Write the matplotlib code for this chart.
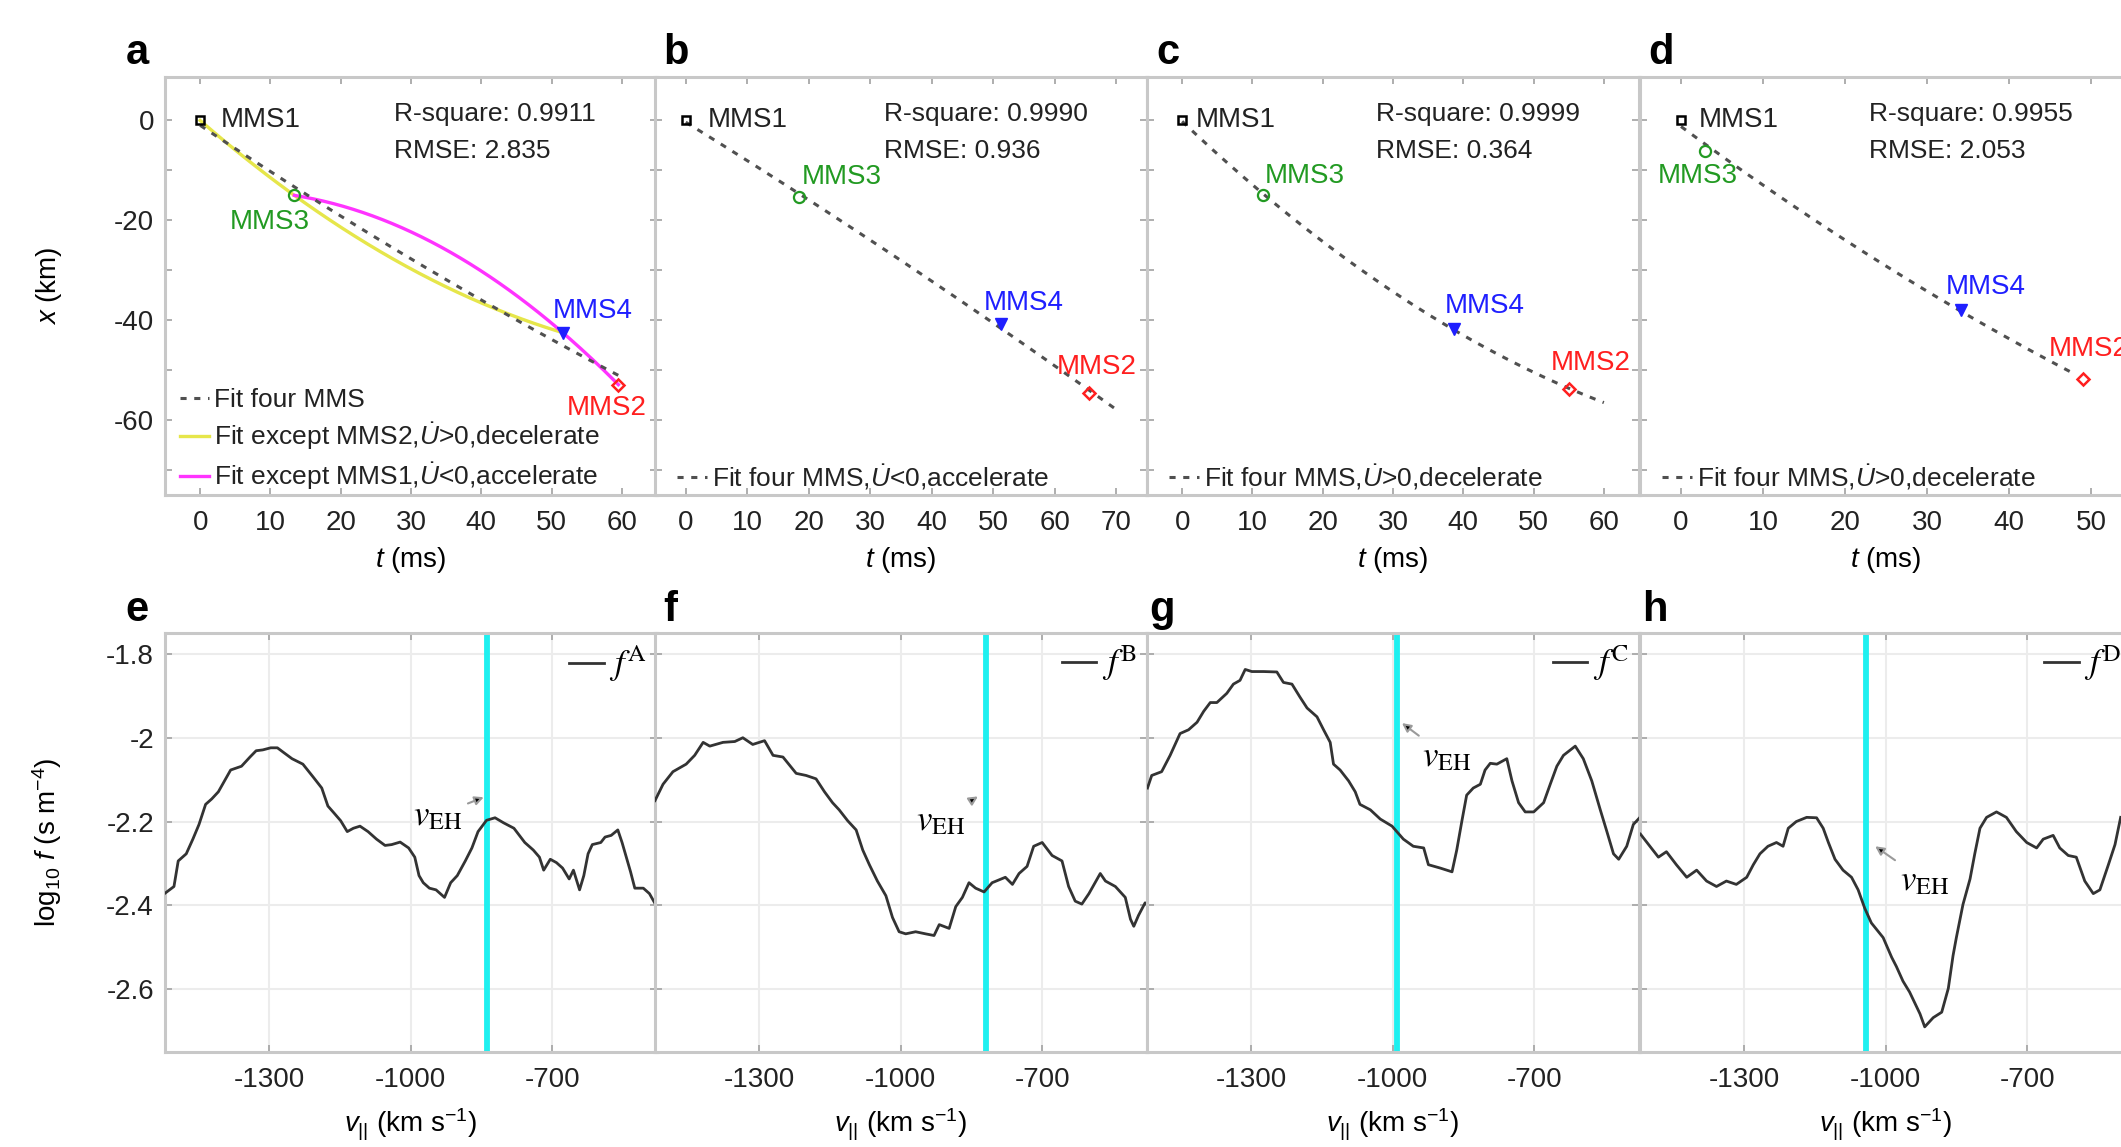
import numpy as np
import matplotlib.pyplot as plt

plt.rcParams['font.family'] = ['Liberation Sans', 'DejaVu Sans']
plt.rcParams['mathtext.fontset'] = 'custom'
plt.rcParams['mathtext.rm'] = 'Liberation Sans'
plt.rcParams['mathtext.it'] = 'Liberation Sans:italic'
plt.rcParams['mathtext.bf'] = 'Liberation Sans:bold'

# ---- top row: timing (ms) and position along x (km) of the four spacecraft
top_letters = ['a', 'b', 'c', 'd']
t_mms1 = [0.0, 0.0, 0.0, 0.0]
x_mms1 = [0.0, 0.0, 0.0, 0.0]
t_mms3 = [13.4, 18.4, 11.5, 2.9]
x_mms3 = [-15.0, -15.4, -15.0, -6.1]
t_mms4 = [51.6, 51.2, 38.7, 34.2]
x_mms4 = [-42.5, -40.7, -41.7, -37.9]
t_mms2 = [59.5, 65.6, 55.1, 49.0]
x_mms2 = [-52.9, -54.5, -53.8, -51.8]
fit_t_end = [60, 70, 60, 48]
r_square = ['0.9911', '0.9990', '0.9999', '0.9955']
rmse = ['2.835', '0.936', '0.364', '2.053']
top_xlims = [(-5, 65), (-5, 75), (-5, 65), (-5, 55)]
fit_labels = [
    'Fit four MMS',
    r'Fit four MMS,$\dot{U}$<0,accelerate',
    r'Fit four MMS,$\dot{U}$>0,decelerate',
    r'Fit four MMS,$\dot{U}$>0,decelerate',
]
yellow_label = r'Fit except MMS2,$\dot{U}$>0,decelerate'
magenta_label = r'Fit except MMS1,$\dot{U}$<0,accelerate'

# ---- bottom row: reduced distributions log10 f vs v_par (km/s)
bottom_letters = ['e', 'f', 'g', 'h']
f_names = ['A', 'B', 'C', 'D']
v_e = [-1521, -1501, -1492, -1475, -1461, -1448, -1434, -1421, -1407, -1394,
       -1381, -1358, -1340, -1327, -1313, -1296, -1282, -1269, -1251, -1228,
       -1206, -1188, -1175, -1161, -1148, -1134, -1121, -1107, -1090, -1072,
       -1054, -1040, -1022, -1004, -991, -982, -973, -960, -946, -928,
       -915, -901, -884, -870, -857, -839, -821, -803, -781, -758,
       -740, -727, -718, -704, -691, -678, -664, -655, -642, -633,
       -624, -615, -597, -588, -575, -561, -552, -543, -534, -525,
       -507, -494, -481, -476]
f_e = [-2.372, -2.355, -2.294, -2.277, -2.242, -2.207, -2.159, -2.146, -2.129, -2.103,
       -2.077, -2.068, -2.046, -2.031, -2.029, -2.024, -2.024, -2.035, -2.050, -2.063,
       -2.094, -2.120, -2.163, -2.181, -2.198, -2.224, -2.216, -2.211, -2.224, -2.242,
       -2.257, -2.255, -2.249, -2.263, -2.285, -2.329, -2.346, -2.359, -2.363, -2.381,
       -2.346, -2.329, -2.294, -2.263, -2.224, -2.197, -2.191, -2.203, -2.216, -2.250,
       -2.268, -2.285, -2.316, -2.290, -2.298, -2.311, -2.337, -2.316, -2.363, -2.329,
       -2.277, -2.255, -2.250, -2.237, -2.233, -2.220, -2.250, -2.285, -2.320, -2.359,
       -2.359, -2.372, -2.398, -2.416]
v_f = [-1520, -1503, -1482, -1454, -1436, -1418, -1404, -1376, -1351, -1334,
       -1313, -1288, -1270, -1249, -1221, -1200, -1179, -1161, -1144, -1130,
       -1112, -1094, -1080, -1066, -1049, -1031, -1017, -1003, -989, -968,
       -947, -929, -918, -897, -883, -869, -855, -841, -823, -806,
       -778, -763, -749, -732, -718, -700, -679, -658, -644, -630,
       -616, -601, -577, -566, -545, -524, -513, -506, -496, -482, -478]
f_f = [-2.150, -2.111, -2.081, -2.063, -2.042, -2.011, -2.020, -2.011, -2.009, -2.000,
       -2.016, -2.007, -2.042, -2.046, -2.085, -2.090, -2.098, -2.129, -2.155, -2.172,
       -2.198, -2.220, -2.268, -2.303, -2.342, -2.377, -2.429, -2.463, -2.468, -2.463,
       -2.468, -2.472, -2.446, -2.455, -2.403, -2.381, -2.346, -2.359, -2.368, -2.346,
       -2.333, -2.350, -2.324, -2.307, -2.259, -2.250, -2.281, -2.294, -2.355, -2.390,
       -2.397, -2.372, -2.324, -2.342, -2.355, -2.381, -2.433, -2.450, -2.424, -2.394, -2.398]
v_g = [-1519, -1510, -1489, -1471, -1450, -1432, -1414, -1400, -1386, -1372,
       -1351, -1337, -1323, -1312, -1298, -1273, -1245, -1231, -1213, -1196,
       -1181, -1160, -1146, -1132, -1125, -1111, -1093, -1079, -1069, -1047,
       -1026, -1001, -991, -977, -956, -934, -924, -899, -874, -864,
       -853, -843, -829, -814, -804, -793, -779, -758, -747, -733,
       -719, -701, -680, -666, -652, -638, -613, -596, -578, -560,
       -546, -532, -521, -504, -490, -476]
f_g = [-2.120, -2.090, -2.081, -2.042, -1.990, -1.981, -1.963, -1.937, -1.916, -1.916,
       -1.894, -1.872, -1.863, -1.837, -1.842, -1.842, -1.843, -1.868, -1.872, -1.903,
       -1.929, -1.950, -1.981, -2.011, -2.063, -2.077, -2.103, -2.129, -2.159, -2.172,
       -2.194, -2.211, -2.224, -2.242, -2.259, -2.263, -2.303, -2.311, -2.320, -2.268,
       -2.198, -2.137, -2.120, -2.111, -2.077, -2.061, -2.063, -2.050, -2.103, -2.155,
       -2.177, -2.177, -2.155, -2.111, -2.068, -2.042, -2.020, -2.050, -2.103, -2.172,
       -2.224, -2.277, -2.290, -2.259, -2.207, -2.190]
v_h = [-1519, -1499, -1481, -1464, -1443, -1421, -1400, -1379, -1358,
       -1337, -1316, -1294, -1280, -1266, -1249, -1231, -1217, -1206, -1189,
       -1167, -1146, -1132, -1121, -1107, -1090, -1072, -1058, -1044, -1030,
       -1005, -987, -977, -963, -949, -927, -917, -899, -881, -867,
       -857, -850, -836, -821, -811, -800, -786, -765, -744, -723,
       -701, -680, -666, -645, -631, -613, -596, -578, -560, -546,
       -528, -514, -502]
f_h = [-2.230, -2.259, -2.285, -2.272, -2.303, -2.333, -2.316, -2.342, -2.355,
       -2.342, -2.350, -2.333, -2.303, -2.277, -2.259, -2.250, -2.259, -2.216, -2.200,
       -2.190, -2.191, -2.216, -2.250, -2.290, -2.316, -2.333, -2.363, -2.407, -2.442,
       -2.477, -2.524, -2.546, -2.581, -2.607, -2.659, -2.690, -2.668, -2.655, -2.598,
       -2.520, -2.477, -2.398, -2.337, -2.277, -2.216, -2.190, -2.177, -2.190, -2.224,
       -2.250, -2.263, -2.242, -2.233, -2.263, -2.281, -2.285, -2.342, -2.372, -2.363,
       -2.303, -2.255, -2.190]
v_curves = [v_e, v_f, v_g, v_h]
f_curves = [f_e, f_f, f_g, f_h]
v_eh = [-839, -819, -991, -1042]
eh_text = [(-942, -2.185), (-915, -2.197), (-885, -2.045), (-917, -2.342)]
eh_head = [(-845, -2.142), (-836, -2.140), (-980, -1.965), (-1022, -2.259)]

# label placements (data coords, left aligned) for the MMS tags
lab_mms1 = [(3.0, 0.0), (3.5, 0.0), (2.0, 0.0), (2.2, 0.0)]
lab_mms3 = [(4.2, -20.4), (18.8, -11.4), (11.7, -11.1), (-2.8, -11.1)]
lab_mms4 = [(50.1, -38.2), (48.4, -36.6), (37.4, -37.1), (32.3, -33.4)]
lab_mms2 = [(52.2, -57.5), (60.4, -49.3), (52.4, -48.6), (44.8, -45.7)]

W, H = 2121, 1147
lefts = [165, 655, 1147, 1640]
axw = 492
green, blue, red = '#229a22', '#1f1fff', '#ff1f1f'


def style(ax):
    for s in ax.spines.values():
        s.set_color('#c8c8c8')
        s.set_linewidth(2.2)
    ax.tick_params(direction='in', top=True, right=True, length=5, width=1.3,
                   color='#a8a8a8', labelsize=20, labelcolor='#222222', pad=8)
    ax.tick_params(axis='x', pad=11)


fig = plt.figure(figsize=(W / 100, H / 100), dpi=100)

for i in range(4):
    ax = fig.add_axes([lefts[i] / W, 1 - 495 / H, axw / W, 418 / H])
    style(ax)
    t4 = [t_mms1[i], t_mms3[i], t_mms4[i], t_mms2[i]]
    x4 = [x_mms1[i], x_mms3[i], x_mms4[i], x_mms2[i]]
    handles = []
    if i == 0:
        cy = np.polyfit(t4[:3], x4[:3], 2)
        ty = np.linspace(t4[0], t4[2], 200)
        yl, = ax.plot(ty, np.polyval(cy, ty), color='#e6e64a', lw=2.4, zorder=2)
        cm = np.polyfit(t4[1:], x4[1:], 2)
        tm = np.linspace(t4[1], t4[3], 200)
        ml, = ax.plot(tm, np.polyval(cm, tm), color='#ff33ff', lw=2.4, zorder=2)
    coef = np.polyfit(t4, x4, 2)
    tt = np.linspace(0, fit_t_end[i], 300)
    fl, = ax.plot(tt, np.polyval(coef, tt), color='#505050', lw=2.2,
                  ls=(0, (2, 2.5)), zorder=3)
    handles.append(fl)
    labels = [fit_labels[i]]
    if i == 0:
        handles += [yl, ml]
        labels += [yellow_label, magenta_label]

    ax.plot(t_mms1[i], x_mms1[i], 's', mfc='none', mec='black', ms=6, mew=1.8, zorder=4)
    ax.plot(t_mms3[i], x_mms3[i], 'o', mfc='none', mec=green, ms=8, mew=1.6, zorder=4)
    ax.plot(t_mms4[i], x_mms4[i], 'v', color=blue, ms=8, zorder=4)
    ax.plot(t_mms2[i], x_mms2[i], 'D', mfc='none', mec=red, ms=6.5, mew=1.8, zorder=4)
    ax.text(*lab_mms1[i], 'MMS1', color='#222222', fontsize=20, va='center')
    ax.text(*lab_mms3[i], 'MMS3', color=green, fontsize=20, va='center')
    ax.text(*lab_mms4[i], 'MMS4', color=blue, fontsize=20, va='center')
    ax.text(*lab_mms2[i], 'MMS2', color=red, fontsize=20, va='center')
    ax.text(0.466, 0.912, 'R-square: ' + r_square[i], transform=ax.transAxes,
            fontsize=19, va='center', color='#222222')
    ax.text(0.466, 0.823, 'RMSE: ' + rmse[i], transform=ax.transAxes,
            fontsize=19, va='center', color='#222222')

    leg = ax.legend(handles, labels, loc='lower left', frameon=False, fontsize=19,
                    bbox_to_anchor=(0.02 if i == 0 else 0.035, -0.005),
                    borderaxespad=0, borderpad=0.2, handlelength=1.1,
                    handletextpad=0.2, labelspacing=0.3)
    for t in leg.get_texts():
        t.set_color('#222222')

    ax.set_xlim(*top_xlims[i])
    ax.set_ylim(-75, 8.7)
    ax.set_xticks(range(0, top_xlims[i][1], 10))
    ax.set_xticklabels([str(v) for v in range(0, top_xlims[i][1], 10)])
    ax.set_yticks(range(-70, 1, 10))
    if i == 0:
        ax.set_yticklabels([str(v) if v % 20 == 0 else '' for v in range(-70, 1, 10)])
        ax.set_ylabel(r'$x$ (km)', fontsize=20)
        ax.yaxis.set_label_coords(-0.206, 0.5)
    else:
        ax.tick_params(labelleft=False)
    ax.set_xlabel(r'$t$ (ms)', fontsize=20)
    ax.xaxis.set_label_coords(0.5, -0.12)
    fig.text((lefts[i] + (-28 if i == 0 else 21)) / W, 1 - 53 / H, top_letters[i],
             fontsize=30, fontweight='bold', ha='center', va='center')

for i in range(4):
    ax = fig.add_axes([lefts[i] / W, 1 - 1052 / H, axw / W, 419 / H])
    style(ax)
    ax.grid(True, color='#ececec', lw=1.5)
    ax.set_axisbelow(True)
    ln, = ax.plot(v_curves[i], f_curves[i], color='#333333', lw=2.0, zorder=3)
    ax.axvline(v_eh[i], color='#1ef0f0', lw=4.2, zorder=2)
    ax.annotate(r'$v_{\rm EH}$', xy=eh_head[i], xytext=eh_text[i], ha='center',
                va='center', fontsize=25, math_fontfamily='stix', zorder=5,
                arrowprops=dict(arrowstyle='-|>', ec='#9a9a9a', fc='black', lw=1.5,
                                mutation_scale=13, shrinkA=2, shrinkB=0))
    leg = ax.legend([ln], [r'$f^{\rm %s}$' % f_names[i]], loc='upper right',
                    frameon=False, fontsize=25, handlelength=1.0,
                    handletextpad=0.15, borderaxespad=0.1, borderpad=0.2)
    for t in leg.get_texts():
        t.set_math_fontfamily('stix')
    ax.set_xlim(-1520, -478)
    ax.set_ylim(-2.75, -1.75)
    ax.set_xticks([-1300, -1000, -700])
    ax.set_xticklabels(['-1300', '-1000', '-700'])
    ax.set_yticks([-2.6, -2.4, -2.2, -2.0, -1.8])
    if i == 0:
        ax.set_yticklabels(['-2.6', '-2.4', '-2.2', '-2', '-1.8'])
        ax.set_ylabel(r'log$_{10}$ $f$ (s m$^{-4}$)', fontsize=20)
        ax.yaxis.set_label_coords(-0.206, 0.5)
    else:
        ax.tick_params(labelleft=False)
    ax.set_xlabel(r'$v_{||}$ (km s$^{-1}$)', fontsize=20)
    ax.xaxis.set_label_coords(0.5, -0.13)
    fig.text((lefts[i] + (-28 if i == 0 else 15)) / W, 1 - 610 / H, bottom_letters[i],
             fontsize=30, fontweight='bold', ha='center', va='center')

fig.savefig('out.png', dpi=100)
